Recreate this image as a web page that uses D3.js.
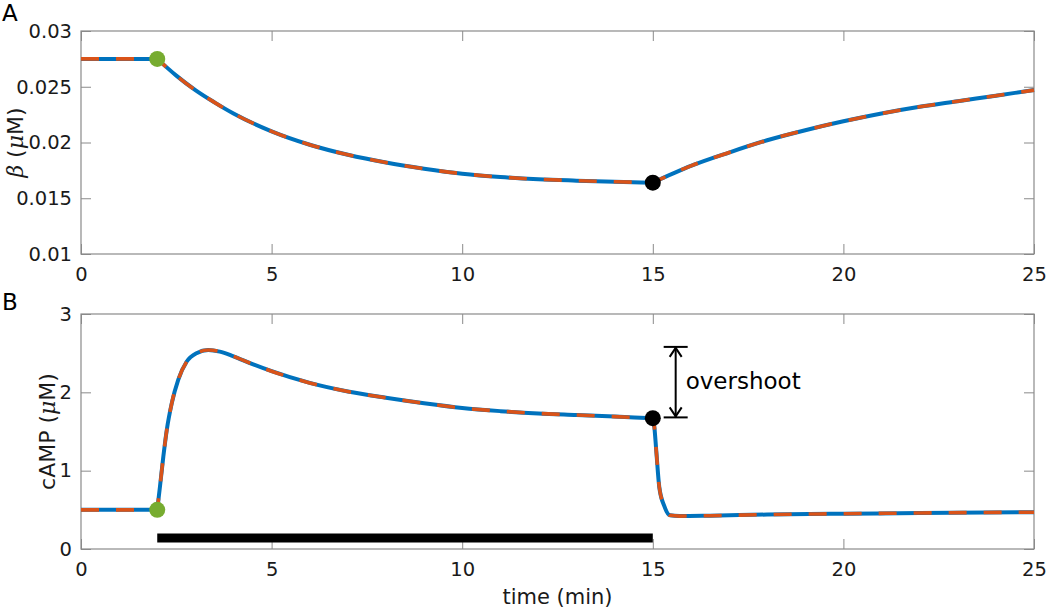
<!DOCTYPE html>
<html>
<head>
<meta charset="utf-8">
<script src="https://cdn.jsdelivr.net/npm/d3@7"></script>
<style>
  html, body { margin: 0; padding: 0; background: #fff; }
  svg { display: block; font-family: "DejaVu Sans", Verdana, sans-serif; }
</style>
</head>
<body>
<svg id="chart" width="1050" height="615"></svg>
<script>
// ---------- data ----------
const timeA = [0, 2, 2.5, 3, 3.5, 4, 5, 6, 7, 8, 9, 10, 11, 12, 13, 14, 15,
               16, 17, 18, 19, 20, 21, 22, 23, 24, 25];
const betaA = [0.0275, 0.0275, 0.0260, 0.0247, 0.0236, 0.0226, 0.0210, 0.0198, 0.0189, 0.0182, 0.01765, 0.0172, 0.0169, 0.0167, 0.01658, 0.01648, 0.0164,
               0.0179, 0.0191, 0.0202, 0.0211, 0.0219, 0.0226, 0.0232, 0.0237, 0.0242, 0.0247];

const timeB = [0, 2, 2.07, 2.16, 2.25, 2.38, 2.55, 2.77, 3.03, 3.34, 3.64, 4.0, 4.5, 5, 6, 7, 8, 9, 10, 11, 12, 13, 14, 15,
               15.04, 15.09, 15.17, 15.3, 15.45, 15.7, 16.5, 18, 20, 22, 25];
const campB = [0.5, 0.5, 0.79, 1.18, 1.52, 1.86, 2.16, 2.39, 2.50, 2.54, 2.52, 2.46, 2.36, 2.27, 2.12, 2.01, 1.93, 1.86, 1.80, 1.76, 1.73, 1.71, 1.69, 1.67,
               1.56, 1.26, 0.79, 0.55, 0.43, 0.42, 0.425, 0.44, 0.45, 0.46, 0.47];

const stimOn = 2, stimOff = 15;          // stimulus start / end (min)
const stimBarLevel = 0.14;               // cAMP level of the stimulus bar
const overshootTop = 2.58, overshootBottom = 1.68, overshootTime = 15.6;

const xTicks = [0, 5, 10, 15, 20, 25];
const yTicksA = [0.01, 0.015, 0.02, 0.025, 0.03];
const yTickLabelsA = ["0.01", "0.015", "0.02", "0.025", "0.03"];
const yTicksB = [0, 1, 2, 3];

// ---------- layout ----------
const svg = d3.select("#chart");
const left = 81, right = 1034;
const panelA = {top: 31, bottom: 254};
const panelB = {top: 314, bottom: 549};

const x = d3.scaleLinear().domain([0, 25]).range([left, right]);
const yA = d3.scaleLinear().domain([0.01, 0.03]).range([panelA.bottom, panelA.top]);
const yB = d3.scaleLinear().domain([0, 3]).range([panelB.bottom, panelB.top]);

const BLUE = "#0072BD", ORANGE = "#D95319", GREEN = "#77AC30";
const AXIS = "#8a8a8a", TEXT = "#1a1a1a";
const FONT = '"DejaVu Sans", Verdana, sans-serif';
const SERIF = '"DejaVu Serif", "Liberation Serif", serif';
const tickFont = 19.5;

function drawAxes(y, panel, ticks, labels) {
  const g = svg.append("g");
  const tk = 10;
  const bx = g.append("g").attr("transform", `translate(0,${panel.bottom})`)
    .call(d3.axisBottom(x).tickValues(xTicks).tickSizeInner(-tk).tickSizeOuter(0).tickPadding(13).tickFormat(d3.format("d")));
  const tx = g.append("g").attr("transform", `translate(0,${panel.top})`)
    .call(d3.axisTop(x).tickValues(xTicks).tickSizeInner(-tk).tickSizeOuter(0).tickFormat(""));
  const ly = g.append("g").attr("transform", `translate(${left},0)`)
    .call(d3.axisLeft(y).tickValues(ticks).tickSizeInner(-tk).tickSizeOuter(0).tickPadding(9)
      .tickFormat((d, i) => labels ? labels[i] : d3.format("d")(d)));
  const ry = g.append("g").attr("transform", `translate(${right},0)`)
    .call(d3.axisRight(y).tickValues(ticks).tickSizeInner(-tk).tickSizeOuter(0).tickFormat(""));
  [bx, tx, ly, ry].forEach(a => {
    a.attr("font-size", null).attr("font-family", null);
    a.select(".domain").remove();
    a.selectAll(".tick line").attr("stroke", AXIS).attr("stroke-width", 1);
    a.selectAll(".tick text").attr("fill", TEXT).style("font-size", tickFont + "px")
      .style("font-family", FONT);
  });
  g.append("rect").attr("x", left).attr("y", panel.top)
    .attr("width", right - left).attr("height", panel.bottom - panel.top)
    .attr("fill", "none").attr("stroke", AXIS).attr("stroke-width", 1.2);
}

function splitAt(ts, vs, kinks) {
  const segs = [];
  let cur = [];
  ts.forEach((t, i) => {
    cur.push([t, vs[i]]);
    if (kinks.includes(t) && cur.length > 1) { segs.push(cur); cur = [[t, vs[i]]]; }
  });
  if (cur.length > 1) segs.push(cur);
  return segs;
}

function curvePath(ts, vs, y, kinks) {
  const line = d3.line().x(d => x(d[0])).y(d => y(d[1])).curve(d3.curveMonotoneX);
  const segs = splitAt(ts, vs, kinks);
  return segs.map((s, i) => {
    const p = line(s);
    return i === 0 ? p : p.replace(/^M/, "L");
  }).join("");
}

function drawCurve(ts, vs, y, kinks) {
  const d = curvePath(ts, vs, y, kinks);
  svg.append("path").attr("d", d).attr("fill", "none").attr("stroke", BLUE)
    .attr("stroke-width", 4).attr("stroke-linejoin", "round");
  svg.append("path").attr("d", d).attr("fill", "none").attr("stroke", ORANGE)
    .attr("stroke-width", 3.6).attr("stroke-dasharray", "18,17").attr("stroke-linejoin", "round");
}

function valueAt(ts, vs, t) { return vs[ts.indexOf(t)]; }

// ---------- Panel A ----------
drawAxes(yA, panelA, yTicksA, yTickLabelsA);
drawCurve(timeA, betaA, yA, [stimOn, stimOff]);
svg.append("circle").attr("cx", x(stimOn)).attr("cy", yA(valueAt(timeA, betaA, stimOn))).attr("r", 8).attr("fill", GREEN);
svg.append("circle").attr("cx", x(stimOff)).attr("cy", yA(valueAt(timeA, betaA, stimOff))).attr("r", 8).attr("fill", "#000");

// y label A
const labA = svg.append("text")
  .attr("transform", `translate(23,${(panelA.top + panelA.bottom) / 2}) rotate(-90)`)
  .attr("text-anchor", "middle").attr("fill", TEXT).style("font-size", "22px");
labA.append("tspan").style("font-style", "italic").style("font-family", SERIF).text("β");
labA.append("tspan").text(" (");
labA.append("tspan").style("font-style", "italic").style("font-family", SERIF).text("μ");
labA.append("tspan").text("M)");

svg.append("text").attr("x", 2).attr("y", 21).attr("fill", "#000").style("font-size", "23px").text("A");

// ---------- Panel B ----------
drawAxes(yB, panelB, yTicksB, null);

// stimulus bar
svg.append("line").attr("x1", x(stimOn)).attr("x2", x(stimOff))
  .attr("y1", yB(stimBarLevel)).attr("y2", yB(stimBarLevel))
  .attr("stroke", "#000").attr("stroke-width", 9);

drawCurve(timeB, campB, yB, [stimOn, stimOff]);
svg.append("circle").attr("cx", x(stimOn)).attr("cy", yB(valueAt(timeB, campB, stimOn))).attr("r", 8).attr("fill", GREEN);
svg.append("circle").attr("cx", x(stimOff)).attr("cy", yB(valueAt(timeB, campB, stimOff))).attr("r", 8).attr("fill", "#000");

// overshoot annotation
const ax = x(overshootTime), aT = yB(overshootTop), aB = yB(overshootBottom);
const ann = svg.append("g").attr("stroke", "#000").attr("stroke-width", 2).attr("fill", "none");
ann.append("line").attr("x1", ax).attr("x2", ax).attr("y1", aT).attr("y2", aB);
ann.append("line").attr("x1", ax - 12).attr("x2", ax + 12).attr("y1", aT).attr("y2", aT);
ann.append("line").attr("x1", ax - 12).attr("x2", ax + 12).attr("y1", aB).attr("y2", aB);
ann.append("path").attr("d", `M${ax - 6},${aT + 10} L${ax},${aT + 1} L${ax + 6},${aT + 10}`);
ann.append("path").attr("d", `M${ax - 6},${aB - 10} L${ax},${aB - 1} L${ax + 6},${aB - 10}`);
svg.append("text").attr("x", ax + 10).attr("y", (aT + aB) / 2 + 7)
  .attr("fill", "#000").style("font-size", "23px").text("overshoot");

// y label B
const labB = svg.append("text")
  .attr("transform", `translate(55,${(panelB.top + panelB.bottom) / 2}) rotate(-90)`)
  .attr("text-anchor", "middle").attr("fill", TEXT).style("font-size", "22px");
labB.append("tspan").text("cAMP (");
labB.append("tspan").style("font-style", "italic").style("font-family", SERIF).text("μ");
labB.append("tspan").text("M)");

svg.append("text").attr("x", 2).attr("y", 310).attr("fill", "#000").style("font-size", "23px").text("B");

// x label
svg.append("text").attr("x", (left + right) / 2).attr("y", 604).attr("text-anchor", "middle")
  .attr("fill", TEXT).style("font-size", "21px").text("time (min)");
</script>
</body>
</html>
